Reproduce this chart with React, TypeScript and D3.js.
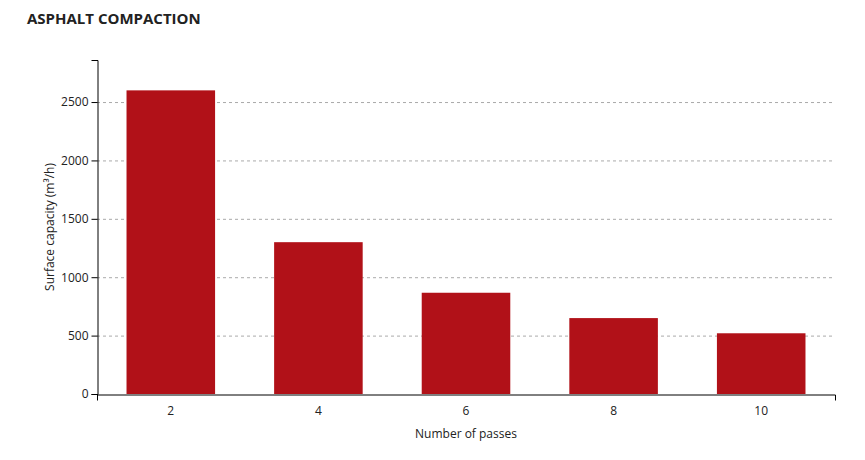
import { useEffect, useRef } from 'react';
import * as d3 from 'd3';

const passes = ['2', '4', '6', '8', '10'];
const capacity = [2600, 1300, 867, 650, 520];
const yTicks = [0, 500, 1000, 1500, 2000, 2500];

const width = 865;
const height = 460;
const margin = { top: 60, right: 30, bottom: 66, left: 97 };
const font = '"Open Sans", "DejaVu Sans", sans-serif';

export default function App() {
  const ref = useRef<SVGGElement>(null);

  useEffect(() => {
    const g = d3.select(ref.current);
    g.selectAll('*').remove();

    const innerW = width - margin.left - margin.right;
    const innerH = height - margin.top - margin.bottom;

    const x = d3.scaleBand().domain(passes).range([0, innerW]).paddingInner(0.4).paddingOuter(0.2);
    const y = d3
      .scaleLinear()
      .domain([0, d3.max(capacity)! * 1.1])
      .range([innerH, 0]);

    // dashed grid lines
    g.append('g')
      .selectAll('line')
      .data(yTicks.filter((t) => t > 0))
      .join('line')
      .attr('x1', 0)
      .attr('x2', innerW - 3)
      .attr('y1', (d) => y(d) + 0.5)
      .attr('y2', (d) => y(d) + 0.5)
      .attr('stroke', '#aaa')
      .attr('stroke-dasharray', '3,3');

    g.append('g')
      .selectAll('rect')
      .data(capacity)
      .join('rect')
      .attr('x', (_, i) => x(passes[i])!)
      .attr('width', x.bandwidth())
      .attr('y', (d) => y(d))
      .attr('height', (d) => innerH - y(d))
      .attr('fill', '#b11118');

    const yAxis = g
      .append('g')
      .attr('transform', 'translate(0.5,0)')
      .call(d3.axisLeft(y).tickValues(yTicks).tickFormat(d3.format('d')).tickSizeOuter(6));

    const xAxis = g
      .append('g')
      .attr('transform', `translate(0,${innerH + 0.5})`)
      .call(d3.axisBottom(x).tickSize(0).tickSizeOuter(6).tickPadding(12));

    [yAxis, xAxis].forEach((a) => {
      a.selectAll('text').attr('font-family', font).attr('font-size', 12).attr('fill', '#222');
      a.selectAll('path, line').attr('stroke', '#000');
    });

    g.append('text')
      .attr('transform', `translate(-43,${innerH / 2}) rotate(-90)`)
      .attr('text-anchor', 'middle')
      .attr('font-family', font)
      .attr('font-size', 12)
      .attr('fill', '#222')
      .text('Surface capacity (m³/h)');

    g.append('text')
      .attr('x', innerW / 2)
      .attr('y', innerH + 44)
      .attr('text-anchor', 'middle')
      .attr('font-family', font)
      .attr('font-size', 12)
      .attr('fill', '#222')
      .text('Number of passes');
  }, []);

  return (
    <svg width={width} height={height} style={{ position: 'absolute', left: 0, top: 0 }}>
      <text x={27} y={24} fontFamily={font} fontSize={15} fontWeight="bold" fill="#222">
        ASPHALT COMPACTION
      </text>
      <g ref={ref} transform={`translate(${margin.left},${margin.top})`} />
    </svg>
  );
}
